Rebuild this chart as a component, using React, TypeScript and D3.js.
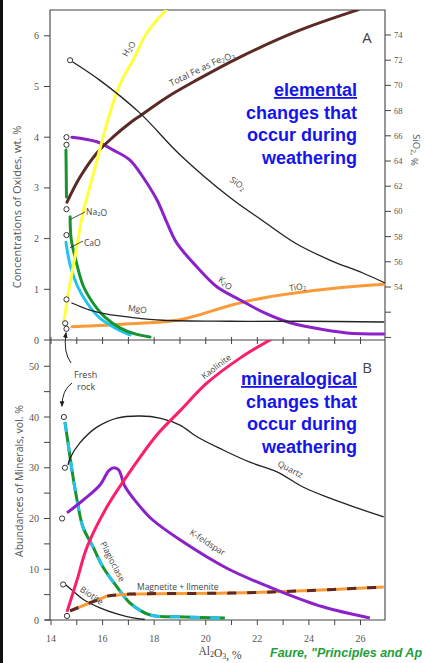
import React from 'react';
import * as d3 from 'd3';

// ---- panel A: oxide concentrations (wt. %) vs Al2O3 (%) ----
const h2oX = [14.5, 14.66, 14.93, 15.24, 15.63, 16.02, 16.4, 16.75, 17.18, 17.72, 18.53];
const h2oY = [0.35, 0.89, 1.64, 2.51, 3.25, 4.0, 4.67, 5.13, 5.52, 6.06, 6.55];
const feX = [14.62, 15.12, 15.78, 16.4, 17.06, 17.45, 18.5, 19.66, 21.33, 23.65, 25.9];
const feY = [2.72, 3.21, 3.69, 4.0, 4.28, 4.42, 4.79, 5.13, 5.58, 6.11, 6.51];
const k2oX = [14.81, 15.78, 16.4, 17.06, 17.57, 18.11, 18.5, 18.88, 19.66, 20.43, 21.33, 22.22, 23.15, 24.16, 25.47, 26.9];
const k2oY = [4.0, 3.91, 3.75, 3.55, 3.21, 2.76, 2.31, 1.91, 1.44, 1.05, 0.79, 0.55, 0.36, 0.24, 0.14, 0.12];
const na2oUpX = [14.58, 14.6];
const na2oUpY = [3.75, 2.82];
const na2oX = [14.74, 14.78, 14.95, 15.24, 15.63, 16.09, 16.67, 17.26, 17.84];
const na2oY = [2.43, 2.0, 1.6, 1.08, 0.73, 0.45, 0.24, 0.12, 0.06];
const caoX = [14.58, 14.74, 15.01, 15.4, 15.9, 16.48, 17.06];
const caoY = [1.93, 1.48, 1.08, 0.73, 0.43, 0.24, 0.1];
const mgoX = [14.81, 15.51, 16.17, 17.06, 18.34, 20.94, 23.65, 26.9];
const mgoY = [0.73, 0.59, 0.51, 0.45, 0.39, 0.37, 0.37, 0.355];
const tio2X = [14.81, 17.06, 19.0, 20.94, 22.22, 23.53, 24.81, 26.09, 26.9];
const tio2Y = [0.26, 0.32, 0.4, 0.68, 0.83, 0.93, 1.01, 1.07, 1.1];
// SiO2 is read on the right-hand axis (%)
const sio2X = [14.74, 15.9, 17.45, 19.0, 20.94, 22.22, 23.53, 24.81, 26.09, 26.95];
const sio2Y = [72.0, 70.4, 67.8, 64.5, 61.1, 59.24, 57.41, 56.14, 55.11, 54.32];
// fresh-rock points (open circles)
const freshOxX = [14.6, 14.6, 14.6, 14.6, 14.6, 14.55, 14.6];
const freshOxY = [4.0, 3.85, 2.58, 2.07, 0.8, 0.33, 0.22];
const freshSiX = [14.74];
const freshSiY = [72.0];

// ---- panel B: mineral abundances (vol. %) ----
const plagX = [14.54, 14.66, 14.81, 15.01, 15.24, 15.63, 16.02, 16.56, 17.06, 17.84, 19.19, 20.74];
const plagY = [39.0, 34.9, 29.6, 23.6, 18.3, 14.4, 10.4, 6.5, 3.35, 1.0, 0.6, 0.4];
const quartzX = [14.66, 14.74, 15.12, 15.78, 16.56, 17.45, 18.22, 19.0, 19.66, 20.67, 21.71, 22.76, 23.77, 24.81, 25.86, 26.9];
const quartzY = [30.5, 31.9, 34.9, 38.0, 39.8, 40.2, 39.8, 38.4, 36.1, 33.5, 31.1, 29.2, 26.2, 24.0, 22.1, 20.3];
const kfsX = [14.62, 15.24, 15.9, 16.25, 16.45, 16.62, 16.87, 17.33, 17.9, 19.0, 20.82, 22.76, 24.54, 26.36];
const kfsY = [21.1, 23.6, 26.6, 29.5, 30.0, 29.6, 26.3, 23.1, 19.9, 15.8, 10.2, 5.9, 2.6, 0.4];
const kaolX = [14.62, 15.01, 15.4, 16.17, 17.18, 18.11, 19.0, 20.05, 21.33, 22.6];
const kaolY = [1.6, 7.9, 14.4, 22.3, 30.1, 36.5, 41.2, 46.7, 51.6, 55.5];
const biotX = [14.58, 14.81, 15.24, 15.9, 16.56, 17.18, 17.64];
const biotY = [6.9, 5.9, 4.1, 2.4, 1.2, 0.4, 0.1];
const magX = [14.74, 15.4, 15.98, 16.17, 17.06, 20.94, 23.53, 26.9];
const magY = [1.8, 3.15, 4.3, 4.7, 5.1, 5.3, 5.7, 6.5];
const freshMinX = [14.5, 14.54, 14.43, 14.47, 14.62];
const freshMinY = [40, 30, 20, 7, 0.8];

// ---- ticks ----
const xTicks = d3.range(14, 27, 1);
const xLabels = [14, 16, 18, 20, 22, 24, 26];
const topTicks = [0, 1, 2, 3, 4, 5, 6];
const siTicks = d3.range(50, 75, 2);
const siLabels = [54, 56, 58, 60, 62, 64, 66, 68, 70, 72, 74];
const botTicks = d3.range(0, 55, 5);
const botLabels = [0, 10, 20, 30, 40, 50];

const L = 50, R = 385, T = 10, M = 340, B = 620;
const x = d3.scaleLinear().domain([14, 26]).range([51, 360.5]);
const yTop = d3.scaleLinear().domain([0, 6]).range([M, 35.8]);
const ySi = d3.scaleLinear().domain([54, 74]).range([287, 35]);
const yBot = d3.scaleLinear().domain([0, 40]).range([B, 417]);

const mk = (xs: number[], ys: number[], ys2: d3.ScaleLinear<number, number>) =>
  d3.line<number>()
    .x((_, i) => x(xs[i]))
    .y((_, i) => ys2(ys[i]))
    .curve(d3.curveCatmullRom.alpha(0.5))(xs) as string;

const axisCol = '#555';
const tickFont = 'Liberation Serif, serif';
const lblFont = 'Open Sans, sans-serif';
const blue = '#1414ee';

const Sub = ({ t }: { t: string }) => (
  <tspan fontSize="0.7em" dy="0.25em">{t}</tspan>
);
const Up = () => <tspan dy="-0.25em"></tspan>;

export default function App() {
  return (
    <svg width={425} height={663} style={{ position: 'absolute', left: 0, top: 0, background: '#fff' }}>
      <defs>
        <clipPath id="clipA"><rect x={L} y={T} width={R - L} height={M - T} /></clipPath>
        <clipPath id="clipB"><rect x={L} y={M} width={R - L} height={B - M} /></clipPath>
        <marker id="arr" viewBox="0 0 10 10" refX="8" refY="5" markerWidth="6" markerHeight="6" orient="auto">
          <path d="M0,1 L10,5 L0,9 Z" fill="#222" />
        </marker>
      </defs>
      <rect x={0} y={0} width={3} height={663} fill="#111" />

      {/* frames */}
      <g stroke="#444" strokeWidth={1.1} fill="none">
        <path d={`M${L},${T}H${R}V${B}H${L}Z`} />
        <line x1={L} x2={R} y1={M} y2={M} />
        <line x1={L - 5} x2={L} y1={B} y2={B} />
      </g>

      {/* ticks */}
      <g stroke="#444" strokeWidth={1}>
        {xTicks.map(t => <line key={'m' + t} x1={x(t)} x2={x(t)} y1={M - 3} y2={M + 4} />)}
        {xTicks.map(t => <line key={'b' + t} x1={x(t)} x2={x(t)} y1={B} y2={B + 5} />)}
        {topTicks.map(t => <line key={'l' + t} x1={L - 6} x2={L} y1={yTop(t)} y2={yTop(t)} />)}
        {botTicks.map(t => <line key={'lb' + t} x1={L - 6} x2={L} y1={yBot(t)} y2={yBot(t)} />)}
        {siTicks.map(t => <line key={'r' + t} x1={R} x2={R + 6} y1={ySi(t)} y2={ySi(t)} />)}
      </g>
      <g fontFamily={tickFont} fontSize={10} fill={axisCol}>
        {xLabels.map(t => <text key={t} x={x(t)} y={642} textAnchor="middle">{t}</text>)}
        {topTicks.map(t => <text key={t} x={39} y={yTop(t) + 3.5} textAnchor="end">{t}</text>)}
        {botLabels.map(t => <text key={t} x={39} y={yBot(t) + 3.5} textAnchor="end">{t}</text>)}
      </g>
      <g fontFamily={tickFont} fontSize={8.5} fill={axisCol}>
        {siLabels.map(t => <text key={t} x={394} y={ySi(t) + 3}>{t}</text>)}
      </g>

      {/* axis titles */}
      <text transform="translate(21,207) rotate(-90)" textAnchor="middle" fontFamily={lblFont} fontSize={11} fill={axisCol}>
        Concentrations of Oxides, wt. %
      </text>
      <text transform="translate(23,481) rotate(-90)" textAnchor="middle" fontFamily={lblFont} fontSize={10.5} fill={axisCol}>
        Abundances of Minerals, vol. %
      </text>
      <text transform="translate(413,150) rotate(90)" textAnchor="middle" fontFamily={lblFont} fontSize={9.5} fill={axisCol}>
        SiO<Sub t="2" /><Up />, %
      </text>
      <text x={220} y={655} textAnchor="middle" fontFamily={tickFont} fontSize={11.5} fill="#444">
        Al<Sub t="2" /><Up />O<Sub t="3" /><Up />, %
      </text>
      <text x={270} y={657} fontFamily="Liberation Sans, Arial, sans-serif" fontSize={12.5} fontWeight="bold" fontStyle="italic" fill="#1f9e3a">
        Faure, "Principles and Ap
      </text>

      {/* panel A curves */}
      <g clipPath="url(#clipA)" fill="none" strokeLinecap="round">
        <path d={mk(tio2X, tio2Y, yTop)} stroke="#fa9a38" strokeWidth={3} />
        <path d={mk(caoX, caoY, yTop)} stroke="#22c3ee" strokeWidth={3} />
        <path d={mk(na2oX, na2oY, yTop)} stroke="#17942d" strokeWidth={3} />
        <path d={mk(na2oUpX, na2oUpY, yTop)} stroke="#17942d" strokeWidth={3} />
        <path d={mk(k2oX, k2oY, yTop)} stroke="#8b22c9" strokeWidth={3} />
        <path d={mk(feX, feY, yTop)} stroke="#5b2a25" strokeWidth={3} />
        <path d={mk(h2oX, h2oY, yTop)} stroke="#ffff3c" strokeWidth={3} />
        <path d={mk(mgoX, mgoY, yTop)} stroke="#222" strokeWidth={1.3} />
        <path d={mk(sio2X, sio2Y, ySi)} stroke="#222" strokeWidth={1.3} />
      </g>
      <g fill="#fff" stroke="#333" strokeWidth={1}>
        {freshOxX.map((v, i) => <circle key={i} cx={x(v)} cy={yTop(freshOxY[i])} r={2.6} />)}
        {freshSiX.map((v, i) => <circle key={'s' + i} cx={x(v)} cy={ySi(freshSiY[i])} r={2.6} />)}
      </g>

      {/* panel A labels */}
      <g fontFamily={lblFont} fontSize={8.5} fill="#444">
        <text transform="translate(131,50) rotate(-62)" textAnchor="middle">H<Sub t="2" /><Up />O</text>
        <text transform="translate(203,71) rotate(-26)" textAnchor="middle" fontSize={9}>Total Fe as Fe<Sub t="2" /><Up />O<Sub t="3" /></text>
        <text transform="translate(236,186) rotate(36)" textAnchor="middle">SiO<Sub t="2" /></text>
        <text transform="translate(224,285) rotate(35)" textAnchor="middle">K<Sub t="2" /><Up />O</text>
        <text transform="translate(298,290) rotate(-9)" textAnchor="middle">TiO<Sub t="2" /></text>
        <text transform="translate(137,312) rotate(8)" textAnchor="middle">MgO</text>
        <text x={86} y={215}>Na<Sub t="2" /><Up />O</text>
        <text x={84} y={246}>CaO</text>
        <text x={367} y={43} textAnchor="middle" fontSize={15} fontFamily={lblFont}>A</text>
      </g>
      <g stroke="#222" strokeWidth={0.8}>
        <line x1={x(14.76)} y1={yTop(2.38)} x2={85} y2={212} />
        <line x1={x(14.74)} y1={yTop(1.82)} x2={83} y2={241} />
      </g>

      {/* panel B curves */}
      <g clipPath="url(#clipB)" fill="none" strokeLinecap="butt">
        <path d={mk(biotX, biotY, yBot)} stroke="#222" strokeWidth={1.3} />
        <path d={mk(plagX, plagY, yBot)} stroke="#17942d" strokeWidth={3} />
        <path d={mk(plagX, plagY, yBot)} stroke="#22c3ee" strokeWidth={3} strokeDasharray="10 10" />
        <path d={mk(magX, magY, yBot)} stroke="#fa9a38" strokeWidth={3} />
        <path d={mk(magX, magY, yBot)} stroke="#5b2a25" strokeWidth={3} strokeDasharray="9 11" />
        <path d={mk(kfsX, kfsY, yBot)} stroke="#8b22c9" strokeWidth={3} />
        <path d={mk(quartzX, quartzY, yBot)} stroke="#222" strokeWidth={1.3} />
        <path d={mk(kaolX, kaolY, yBot)} stroke="#fb1e6c" strokeWidth={3} />
      </g>
      <g fill="#fff" stroke="#333" strokeWidth={1}>
        {freshMinX.map((v, i) => <circle key={i} cx={x(v)} cy={yBot(freshMinY[i])} r={2.6} />)}
      </g>

      {/* panel B labels */}
      <g fontFamily={lblFont} fontSize={8.5} fill="#444">
        <text transform="translate(218,369) rotate(-37)" textAnchor="middle">Kaolinite</text>
        <text transform="translate(289,472) rotate(27)" textAnchor="middle">Quartz</text>
        <text transform="translate(206,545) rotate(33)" textAnchor="middle">K-feldspar</text>
        <text transform="translate(110,563) rotate(63)" textAnchor="middle">Plagioclase</text>
        <text transform="translate(90,598) rotate(34)" textAnchor="middle">Biotite</text>
        <text x={137} y={590}>Magnetite + Ilmenite</text>
        <text x={74} y={378} fontSize={9}>Fresh</text>
        <text x={77} y={389.5} fontSize={9}>rock</text>
        <text x={367} y={373} textAnchor="middle" fontSize={15}>B</text>
      </g>
      <g fill="none" stroke="#222" strokeWidth={1}>
        <path d="M72,383 Q62,390 62,406" markerEnd="url(#arr)" />
        <path d="M71,363 Q63,352 66,333" markerEnd="url(#arr)" />
      </g>

      {/* blue annotations */}
      <g fontFamily="Liberation Sans, Arial, sans-serif" fontWeight="bold" fontSize={18} fill={blue} textAnchor="end">
        <text x={357} y={96} textDecoration="underline">elemental</text>
        <text x={357} y={118.5}>changes that</text>
        <text x={357} y={141}>occur during</text>
        <text x={357} y={163.5}>weathering</text>
        <text x={357} y={385} textDecoration="underline">mineralogical</text>
        <text x={357} y={407.5}>changes that</text>
        <text x={357} y={430}>occur during</text>
        <text x={357} y={452.5}>weathering</text>
      </g>
    </svg>
  );
}
